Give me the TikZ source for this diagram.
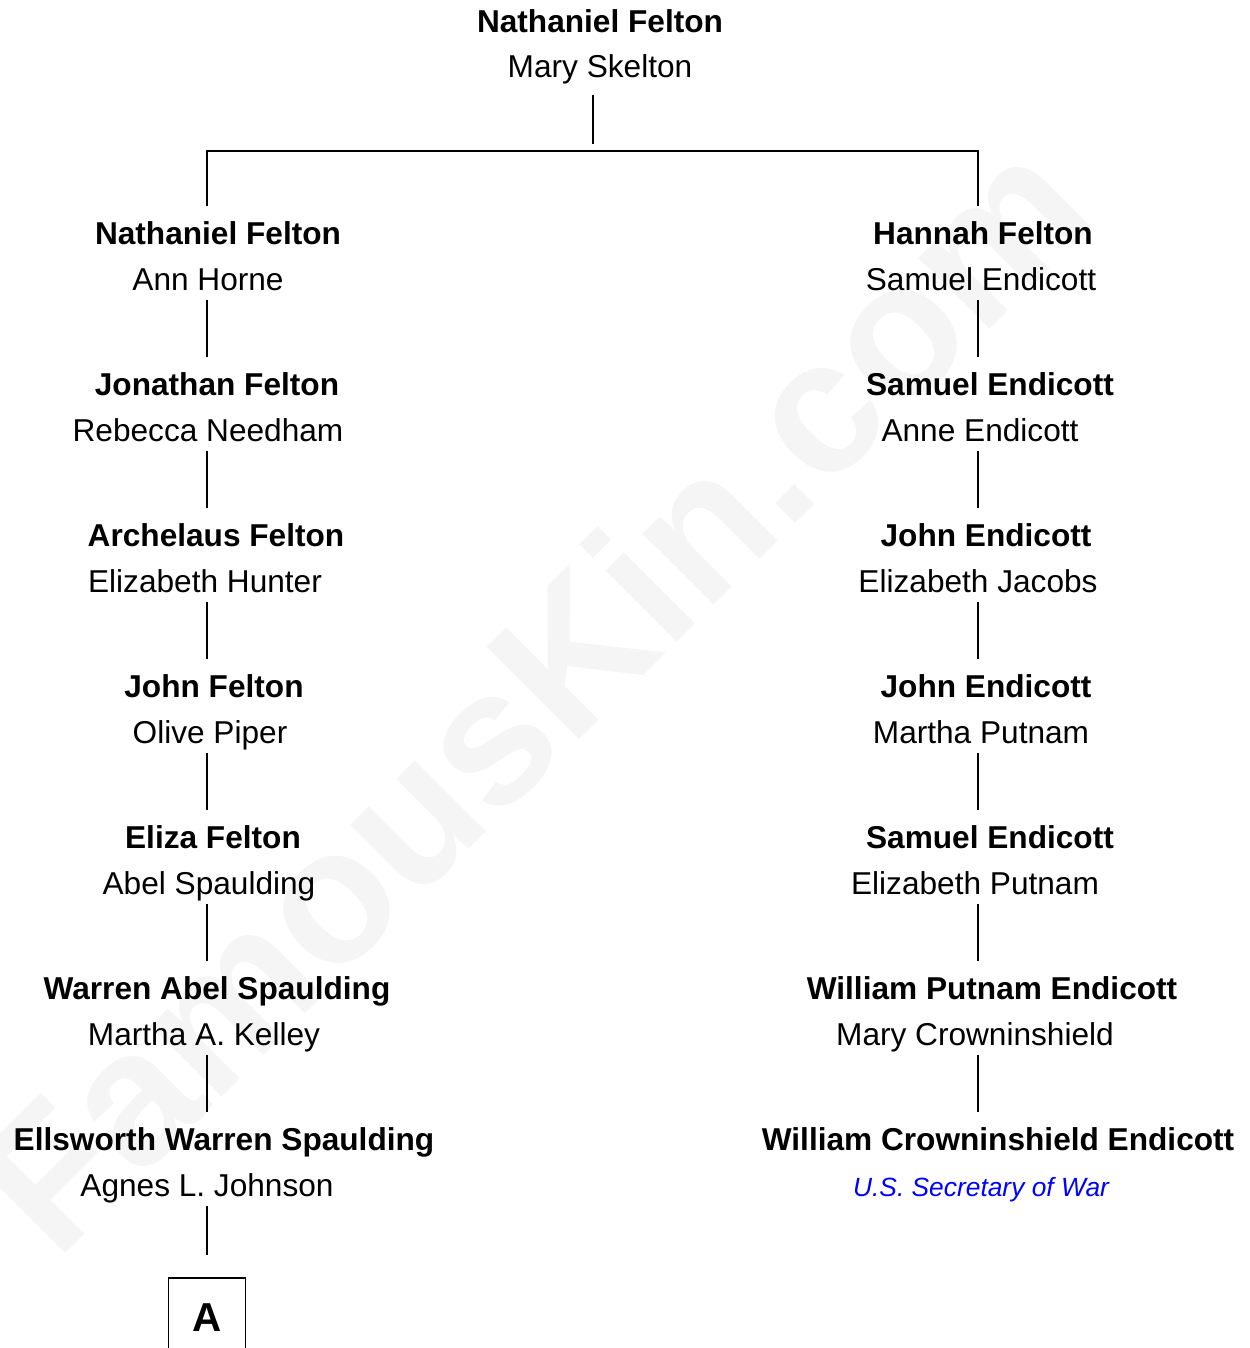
\documentclass[tikz,border=0pt]{standalone}
\usepackage{fontspec}
\setmainfont{Liberation Sans}
\usetikzlibrary{positioning}
\tikzset{
    x=0.02cm, y=-0.02cm, % one unit is one pixel of the chart, y runs downwards
    every path/.style={line width=1.1pt},
    person/.style={inner sep=0pt, anchor=base, text height=0.72em, text depth=0.22em},
    blood/.style={person, font=\fontsize{18}{18}\selectfont\bfseries},
    spouse/.style={person, font=\fontsize{18}{18}\selectfont},
    note/.style={person, text=blue, font=\fontsize{15}{15}\selectfont\itshape},
    link/.style={shorten <=0.1cm, shorten >=0.48cm}, % gap below the spouse and above the next name
    tagbox/.style={draw, anchor=north, minimum width=1.54cm, minimum height=1.6cm, font=\fontsize{23}{23}\selectfont\bfseries},
    watermark/.style={text=black!4, rotate=45, font=\fontsize{108}{108}\selectfont\bfseries},
}

\begin{document}
\begin{tikzpicture}
  \useasboundingbox (0,0) rectangle (1250,1348);
  \node[watermark] (wm) at (530,693) {FamousKin.com};

  % columns of the two lines of descent
  \coordinate (colL) at (207,0);
  \coordinate (colR) at (978,0);
  \coordinate (fork) at (593,151);

  % the couple at the top
  \node[blood]  (n_0) at (600,33) {Nathaniel Felton};
  \node[spouse] (s_0) at (600,78) {Mary Skelton};

  % left line
  \node[blood]  (ln_1) at (218,244)  {Nathaniel Felton};
  \node[spouse] (ls_1) at (208,290)  {Ann Horne};
  \node[blood]  (ln_2) at (217,395)  {Jonathan Felton};
  \node[spouse] (ls_2) at (208,441)  {Rebecca Needham};
  \node[blood]  (ln_3) at (216,546)  {Archelaus Felton};
  \node[spouse] (ls_3) at (205,592)  {Elizabeth Hunter};
  \node[blood]  (ln_4) at (214,697)  {John Felton};
  \node[spouse] (ls_4) at (210,743)  {Olive Piper};
  \node[blood]  (ln_5) at (213,848)  {Eliza Felton};
  \node[spouse] (ls_5) at (209,894)  {Abel Spaulding};
  \node[blood]  (ln_6) at (217,999)  {Warren Abel Spaulding};
  \node[spouse] (ls_6) at (204,1045) {Martha A. Kelley};
  \node[blood]  (ln_7) at (224,1150) {Ellsworth Warren Spaulding};
  \node[spouse] (ls_7) at (207,1196) {Agnes L. Johnson};
  \node[tagbox] (boxA) at (207,1277) {A};

  % right line
  \node[blood]  (rn_1) at (983,244)  {Hannah Felton};
  \node[spouse] (rs_1) at (981,290)  {Samuel Endicott};
  \node[blood]  (rn_2) at (990,395)  {Samuel Endicott};
  \node[spouse] (rs_2) at (980,441)  {Anne Endicott};
  \node[blood]  (rn_3) at (986,546)  {John Endicott};
  \node[spouse] (rs_3) at (978,592)  {Elizabeth Jacobs};
  \node[blood]  (rn_4) at (986,697)  {John Endicott};
  \node[spouse] (rs_4) at (981,743)  {Martha Putnam};
  \node[blood]  (rn_5) at (990,848)  {Samuel Endicott};
  \node[spouse] (rs_5) at (975,894)  {Elizabeth Putnam};
  \node[blood]  (rn_6) at (992,999)  {William Putnam Endicott};
  \node[spouse] (rs_6) at (975,1045) {Mary Crowninshield};
  \node[blood]  (rn_7) at (998,1150) {William Crowninshield Endicott};
  \node[note]   (rs_7) at (981,1196) {U.S. Secretary of War};

  % fork below the top couple
  \draw[shorten <=0.24cm, shorten >=0.14cm] (s_0.south -| fork) -- (fork);
  \draw[shorten <=0.48cm, shorten >=0.48cm]
    (ln_1.north -| colL) -- (fork -| colL) -- (fork -| colR) -- (rn_1.north -| colR);

  \draw[link] (ls_1.south -| colL) -- (ln_2.north -| colL);
  \draw[link] (ls_2.south -| colL) -- (ln_3.north -| colL);
  \draw[link] (ls_3.south -| colL) -- (ln_4.north -| colL);
  \draw[link] (ls_4.south -| colL) -- (ln_5.north -| colL);
  \draw[link] (ls_5.south -| colL) -- (ln_6.north -| colL);
  \draw[link] (ls_6.south -| colL) -- (ln_7.north -| colL);
  \draw[link, shorten >=0.44cm] (ls_7.south -| colL) -- (boxA.north);

  \draw[link] (rs_1.south -| colR) -- (rn_2.north -| colR);
  \draw[link] (rs_2.south -| colR) -- (rn_3.north -| colR);
  \draw[link] (rs_3.south -| colR) -- (rn_4.north -| colR);
  \draw[link] (rs_4.south -| colR) -- (rn_5.north -| colR);
  \draw[link] (rs_5.south -| colR) -- (rn_6.north -| colR);
  \draw[link] (rs_6.south -| colR) -- (rn_7.north -| colR);
\end{tikzpicture}
\end{document}
